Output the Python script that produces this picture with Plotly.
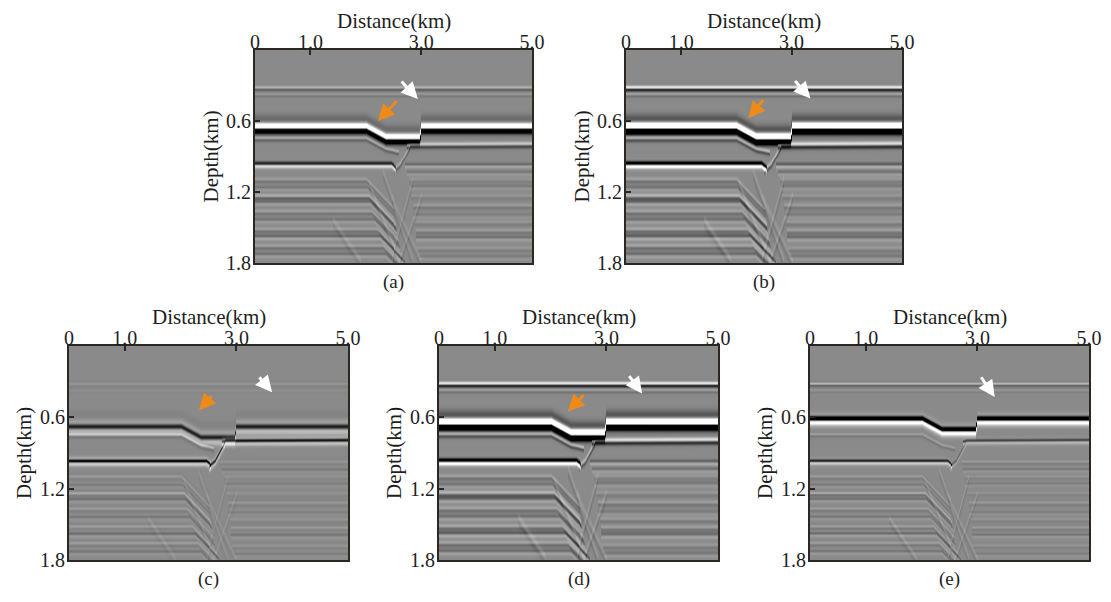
import numpy as np
import plotly.graph_objects as go

# ---------------- data ----------------
panel_labels = ["(a)", "(b)", "(c)", "(d)", "(e)"]
x_title = "Distance(km)"
y_title = "Depth(km)"
x_tick_vals = [0.0, 1.0, 3.0, 5.0]
x_tick_text = ["0", "1.0", "3.0", "5.0"]
y_tick_vals = [0.6, 1.2, 1.8]
y_tick_text = ["0.6", "1.2", "1.8"]

# reflector geometry read from the sections: distance (km) / depth (km)
shallow_x = [0.0, 5.0]
shallow_z = [0.32, 0.32]
shallow2_x = [0.0, 5.0]
shallow2_z = [0.375, 0.375]
main_x = [0.0, 2.0, 2.35, 2.97, 3.0, 5.0]
main_z = [0.655, 0.655, 0.745, 0.745, 0.655, 0.655]
halo_z = [0.575, 0.575, 0.665, 0.665, 0.575, 0.575]
sub_x = [0.0, 2.0, 2.35, 2.6]
sub_z = [0.745, 0.745, 0.835, 0.86]
r4l_x = [0.0, 2.45, 2.55]
r4l_z = [0.97, 0.97, 1.01]
ramp_x = [2.5, 2.62, 2.8]
ramp_z = [1.02, 0.97, 0.81]
r4r_x = [2.74, 2.82, 5.0]
r4r_z = [0.81, 0.80, 0.795]
r5_x = [2.7, 5.0]
r5_z = [0.975, 0.975]

deep_left_z = [1.10, 1.17, 1.24, 1.29, 1.37, 1.44, 1.52, 1.58, 1.66, 1.73]
deep_left_bend_x = [2.00, 2.02, 2.05, 2.07, 2.10, 2.15, 2.20, 2.25, 2.30, 2.35]
deep_left_end_x = [2.50, 2.52, 2.55, 2.57, 2.60, 2.62, 2.66, 2.70, 2.72, 2.75]
deep_left_end_z = [1.35, 1.42, 1.49, 1.54, 1.62, 1.68, 1.75, 1.80, 1.86, 1.92]
deep_left_amp = [0.18, -0.15, 0.35, -0.22, 0.2, -0.18, 0.22, -0.3, 0.22, -0.2]

deep_right_z = [1.04, 1.10, 1.16, 1.24, 1.32, 1.40, 1.46, 1.53, 1.59, 1.68, 1.75]
deep_right_start_x = [2.75, 2.78, 2.80, 2.82, 2.85, 2.85, 2.88, 2.90, 2.90, 2.92, 2.95]
deep_right_amp = [-0.16, 0.1, -0.12, 0.1, 0.15, -0.1, 0.12, 0.17, -0.2, 0.12, -0.12]

fault_x0 = [2.05, 2.30, 2.45, 2.60, 2.45, 1.40]
fault_z0 = [1.15, 1.05, 1.25, 1.80, 1.80, 1.45]
fault_x1 = [2.60, 2.85, 3.00, 3.00, 2.85, 1.90]
fault_z1 = [1.80, 1.80, 1.80, 1.25, 1.10, 1.80]

# per-panel amplitudes (a..e)
amp_shallow = [0.35, 0.85, 0.12, 0.85, 0.45]
amp_shallow2 = [0.12, 0.2, 0.05, 0.18, 0.12]
amp_main = [1.7, 2.2, -1.0, 2.2, -1.8]
main_offset = [0.0, 0.0, 0.03, 0.0, -0.035]
amp_halo = [-0.2, -0.35, -0.05, -0.35, 0.0]
amp_sub = [0.3, 0.45, 0.4, 0.45, 0.2]
amp_r4l = [-0.8, -1.2, -1.3, -1.2, -0.9]
amp_ramp = [0.3, 0.4, -0.9, 0.4, -0.3]
amp_r4r = [0.55, 0.75, -1.1, 0.75, -0.6]
amp_r5 = [-0.25, -0.35, 0.12, -0.3, 0.15]
deep_gain = [0.9, 1.1, 0.9, 1.1, 0.9]
fault_gain = [0.1, 0.13, 0.1, 0.13, 0.13]
sigma_scale = [1.0, 1.1, 0.85, 1.1, 0.8]
wave_mix = [0.1, 0.1, 0.55, 0.1, 0.3]   # share of zero-phase wavelet

# orange arrows (tail -> head), white arrows (tail -> head), per panel
orange_tail = [(2.58, 0.42), (2.51, 0.41), (2.58, 0.41), (2.62, 0.40), None]
orange_head = [(2.22, 0.60), (2.22, 0.577), (2.33, 0.54), (2.31, 0.55), None]
white_tail = [(2.62, 0.254), (3.04, 0.25), (3.39, 0.25), (3.39, 0.24), (3.05, 0.25)]
white_head = [(2.94, 0.414), (3.34, 0.41), (3.64, 0.39), (3.64, 0.40), (3.31, 0.43)]

# ---------------- build sections ----------------
X = np.linspace(0, 5, 281)
D = np.linspace(0, 1.8, 215)
DD = np.meshgrid(X, D)[1]


def odd(u):
    return -u * np.exp(0.5 - u * u / 2)


def ricker(u):
    return (1 - u * u) * np.exp(-u * u / 2)


def gauss(u):
    return np.exp(-u * u / 2)


def add(img, xs, zs, amp, sigma, mix, kind="wave", shift=0.0):
    zr = np.interp(X, xs, zs, left=np.nan, right=np.nan) + shift
    u = (DD - zr[None, :]) / sigma
    if kind == "gauss":
        w = gauss(u)
    else:
        w = (1 - mix) * odd(u) + mix * ricker(u / 1.4)
    img += amp * np.nan_to_num(w)


images = []
for p in range(5):
    s = sigma_scale[p]
    m = wave_mix[p]
    img = np.zeros_like(DD)
    add(img, shallow_x, shallow_z, amp_shallow[p], 0.011 * s, m)
    add(img, shallow2_x, shallow2_z, amp_shallow2[p], 0.01 * s, m)
    add(img, main_x, halo_z, amp_halo[p], 0.03, m, kind="gauss")
    add(img, main_x, main_z, amp_main[p], 0.022 * s, m, shift=main_offset[p])
    add(img, sub_x, sub_z, amp_sub[p], 0.012 * s, m)
    add(img, r4l_x, r4l_z, amp_r4l[p], 0.014 * s, m)
    add(img, ramp_x, ramp_z, amp_ramp[p], 0.014 * s, m)
    add(img, r4r_x, r4r_z, amp_r4r[p], 0.014 * s, m)
    add(img, r5_x, r5_z, amp_r5[p], 0.012 * s, m)
    for i in range(len(deep_left_z)):
        add(img, [0.0, deep_left_bend_x[i], deep_left_end_x[i]],
            [deep_left_z[i], deep_left_z[i], deep_left_end_z[i]],
            deep_left_amp[i] * deep_gain[p], 0.013 * s, m)
    for i in range(len(deep_right_z)):
        add(img, [deep_right_start_x[i], 5.0], [deep_right_z[i], deep_right_z[i]],
            deep_right_amp[i] * deep_gain[p], 0.013 * s, m)
    for i in range(len(fault_x0)):
        xa, za, xb, zb = fault_x0[i], fault_z0[i], fault_x1[i], fault_z1[i]
        if xa > xb:
            xa, za, xb, zb = xb, zb, xa, za
        add(img, [xa, xb], [za, zb], fault_gain[p], 0.025 * s, m)
    images.append(np.round(img, 3))

# ---------------- layout ----------------
PAGE_OFF = 8  # page body margin of the browser
W, H = 1111 - 2 * PAGE_OFF, 602 - 2 * PAGE_OFF
# plot frames in screen pixels (left, right, top, bottom)
frames = [(255, 532, 50, 263), (626, 902, 50, 263),
          (69, 348, 346, 560), (439, 718, 346, 560), (810, 1089, 346, 560)]


def px(xp):
    return (xp - PAGE_OFF) / W


def py(yp):
    return 1 - (yp - PAGE_OFF) / H


fig = go.Figure()
font_family = "Liberation Serif"
frame_color = "#2b2824"
text_color = "#1e1e1e"
colorscale = [[0.0, "#000000"], [0.5, "#8a8a8a"], [1.0, "#ffffff"]]

for p in range(5):
    xa = "x" if p == 0 else f"x{p + 1}"
    ya = "y" if p == 0 else f"y{p + 1}"
    fig.add_trace(go.Heatmap(x=X, y=D, z=images[p], colorscale=colorscale,
                             zmin=-1, zmax=1, showscale=False, hoverinfo="skip",
                             zsmooth="best", xaxis=xa, yaxis=ya))
    l, r, t, b = frames[p]
    xkey = "xaxis" if p == 0 else f"xaxis{p + 1}"
    ykey = "yaxis" if p == 0 else f"yaxis{p + 1}"
    fig.layout[xkey] = dict(
        domain=[px(l), px(r)], range=[0, 5], side="top", anchor=ya,
        tickvals=x_tick_vals, ticktext=x_tick_text, ticks="inside", ticklen=5,
        tickwidth=2, tickcolor=frame_color, showline=True, mirror=True,
        linecolor=frame_color, linewidth=2, showgrid=False, zeroline=False,
        ticklabelstandoff=-9,
        tickfont=dict(family=font_family, size=20, color=text_color),
        automargin=False, fixedrange=True)
    fig.layout[ykey] = dict(
        domain=[py(b), py(t)], range=[1.8, 0], anchor=xa,
        tickvals=y_tick_vals, ticktext=y_tick_text, ticks="inside", ticklen=5,
        tickwidth=2, tickcolor=frame_color, showline=True, mirror=True,
        linecolor=frame_color, linewidth=2, showgrid=False, zeroline=False,
        ticklabelstandoff=-2,
        tickfont=dict(family=font_family, size=20, color=text_color),
        automargin=False, fixedrange=True)
    common = dict(xref="paper", yref="paper", showarrow=False, borderpad=0,
                  xanchor="center", yanchor="middle")
    # axis titles
    fig.add_annotation(text=x_title, x=px((l + r) / 2), y=py(t - 29),
                       font=dict(family=font_family, size=21, color=text_color),
                       **common)
    fig.add_annotation(text=y_title, textangle=-90, x=px(l - 45), y=py((t + b) / 2),
                       font=dict(family=font_family, size=21, color=text_color),
                       **common)
    # panel label
    fig.add_annotation(text=panel_labels[p], x=px((l + r) / 2), y=py(b + 19),
                       font=dict(family=font_family, size=19, color=text_color),
                       **common)
    for tails, heads, col in ((orange_tail, orange_head, "#ee8a1a"),
                              (white_tail, white_head, "#ffffff")):
        if heads[p] is None:
            continue
        fig.add_annotation(x=heads[p][0], y=heads[p][1], ax=tails[p][0], ay=tails[p][1],
                           xref=xa, yref=ya, axref=xa, ayref=ya, text="",
                           showarrow=True, arrowhead=2, arrowsize=1.1,
                           arrowwidth=3, arrowcolor=col)

fig.update_layout(width=W, height=H, margin=dict(l=0, r=0, t=0, b=0),
                  paper_bgcolor="white", plot_bgcolor="#8a8a8a",
                  showlegend=False)
fig.write_html("out.html")
